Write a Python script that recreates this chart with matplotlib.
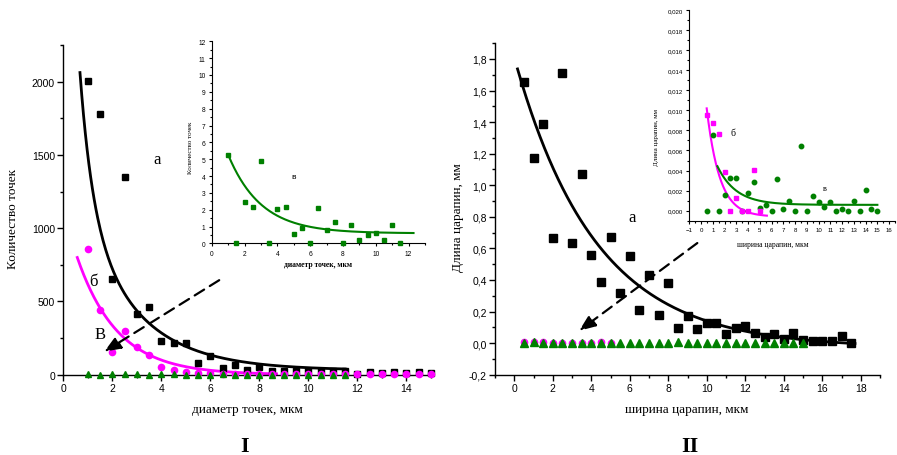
import numpy as np
import matplotlib
matplotlib.use('Agg')
import matplotlib.pyplot as plt
from matplotlib.ticker import MultipleLocator, FuncFormatter

SANS = 'Liberation Sans'
SERIF = 'Liberation Serif'
GREEN = '#008000'
MAGENTA = '#ff00ff'
W, H = 897, 456

# I: number of dots vs dot diameter (um)
dot_d = [1, 1.5, 2, 2.5, 3, 3.5, 4, 4.5, 5, 5.5, 6, 6.5, 7, 7.5, 8, 8.5, 9, 9.5,
         10, 10.5, 11, 11.5, 12, 12.5, 13, 13.5, 14, 14.5, 15]
dots_a = [2005, 1778, 652, 1348, 413, 464, 228, 216, 216, 78, 125, 44, 66, 34,
          55, 26, 27, 23, 23, 23, 23, 27, 8, 18, 12, 20, 12, 16, 12]
dots_b = [857, 441, 157, 300, 187, 136, 55, 34, 20, 9, 11, 8, 6, 5, 5, 4, 4, 4,
          4, 4, 4, 4, 4, 4, 4, 4, 4, 4, 4]
dot_d_v = [1, 1.5, 2, 2.5, 3, 3.5, 4, 4.5, 5, 5.5, 6, 6.5, 7, 7.5, 8, 8.5, 9,
           9.5, 10, 10.5, 11, 11.5]
dots_v = [5.25, 0, 2.44, 2.14, 4.87, 0, 2.04, 2.14, 0.55, 0.91, 0, 2.08, 0.79,
          1.27, 0, 1.09, 0.2, 0.5, 0.59, 0.2, 1.09, 0]

# II: scratch length (mm) vs scratch width (um)
scr_w = [0.5, 1, 1.5, 2, 2.5, 3, 3.5, 4, 4.5, 5, 5.5, 6, 6.5, 7, 7.5, 8, 8.5, 9,
         9.5, 10, 10.5, 11, 11.5, 12, 12.5, 13, 13.5, 14, 14.5, 15, 15.5, 16,
         16.5, 17, 17.5]
scr_a = [1.656, 1.174, 1.39, 0.669, 1.713, 0.634, 1.073, 0.558, 0.389, 0.674,
         0.316, 0.554, 0.213, 0.434, 0.179, 0.381, 0.095, 0.175, 0.088, 0.128,
         0.128, 0.059, 0.097, 0.109, 0.063, 0.038, 0.059, 0.029, 0.065, 0.021,
         0.015, 0.011, 0.011, 0.046, 0.002]
scr_w_b = [0.5, 1, 1.5, 2, 2.5, 3, 3.5, 4, 4.5, 5]
scr_b = [0.00957, 0.00874, 0.00765, 0.00382, 0, 0.0013, 0, 0, 0.00402, 0]
scr_w_v = [0.5, 1, 1.5, 2, 2.5, 3, 3.5, 4, 4.5, 5, 5.5, 6, 6.5, 7, 7.5, 8, 8.5,
           9, 9.5, 10, 10.5, 11, 11.5, 12, 12.5, 13, 13.5, 14, 14.5, 15]
scr_v = [0, 0.0075, 0, 0.00157, 0.00327, 0.00327, 0, 0.0018, 0.00287, 0.00027,
         0.00057, 0, 0.0032, 0.00017, 0.00097, 0, 0.0064, 0, 0.00143, 0.00083,
         0.00033, 0.00083, 0, 0.0002, 0, 0.001, 0, 0.0021, 0.00017, 0]

# exponential decay fits: (x from, x to, y0, A1, t1, A2, t2)
fit_dots_a = (0.68, 11.5, 30, 3330, 0.53, 1500, 2.25)
fit_dots_b = (0.57, 8.7, 0, 1130, 1.65, 0, 1)
fit_dots_v = (1.0, 12.3, 0.6, 7.7, 2.0, 0, 1)
fit_scr_a = (0.17, 17.7, -0.03, 1.84, 4.2, 0, 1)
fit_scr_b = (0.48, 5.6, -0.0006, 0.0167, 1.1, 0, 1)
fit_scr_v = (1.39, 15.0, 0.00058, 0.00918, 1.6, 0, 1)


def plot_fit(ax, fit, color, lw):
    x0, x1, y0, a1, t1, a2, t2 = fit
    x = np.linspace(x0, x1, 300)
    y = y0 + a1 * np.exp(-x / t1) + a2 * np.exp(-x / t2)
    ax.plot(x, y, color=color, lw=lw, zorder=2)


def style_axes(ax, size, lw=1.0, major=4, minor=2.5):
    for side in ('top', 'right'):
        ax.spines[side].set_visible(False)
    for side in ('left', 'bottom'):
        ax.spines[side].set_linewidth(lw)
    ax.tick_params(which='major', direction='out', length=major, width=lw,
                   labelsize=size, pad=2)
    ax.tick_params(which='minor', direction='out', length=minor, width=lw)
    ax.set_facecolor('none')


def comma(fmt):
    return FuncFormatter(lambda v, p: fmt.format(v + 0).replace('.', ','))


def dashed_arrow(ax, tip, tail):
    ax.annotate('', xy=tip, xytext=tail,
                arrowprops=dict(arrowstyle='-|>,head_length=1.0,head_width=0.4',
                                ls=(0, (5, 3)), lw=1.6, color='k',
                                shrinkA=0, shrinkB=0))


plt.rcParams['font.family'] = SANS
fig = plt.figure(figsize=(W / 100, H / 100), dpi=100)


def ftext(x, y, s, **kw):
    fig.text(x / W, 1 - y / H, s, ha='center', va='center', **kw)


def box(left, top, right, bottom):
    return [left / W, 1 - bottom / H, (right - left) / W, (bottom - top) / H]


# ---- I ----
ax1 = fig.add_axes(box(63.3, 46, 431, 375.7))
style_axes(ax1, 7.5)
ax1.plot(dot_d, dots_a, 's', color='k', ms=5, zorder=3, clip_on=False)
plot_fit(ax1, fit_dots_a, 'k', 2.0)
ax1.plot(dot_d, dots_b, 'o', color=MAGENTA, ms=5.5, mec='none', zorder=3,
         clip_on=False)
plot_fit(ax1, fit_dots_b, MAGENTA, 2.0)
ax1.plot(dot_d_v, dots_v, '^', color=GREEN, ms=4.5, zorder=4, clip_on=False)
ax1.set_xlim(0, 15)
ax1.set_ylim(0, 2250)
ax1.xaxis.set_major_locator(MultipleLocator(2))
ax1.xaxis.set_minor_locator(MultipleLocator(1))
ax1.yaxis.set_major_locator(MultipleLocator(500))
ax1.yaxis.set_minor_locator(MultipleLocator(250))
dashed_arrow(ax1, (1.67, 157), (6.36, 645))
ax1.text(3.83, 1471, 'а', family=SERIF, fontsize=12, ha='center', va='center')
ax1.text(1.25, 641, 'б', family=SERIF, fontsize=12, ha='center', va='center')
ax1.text(1.5, 277, 'В', family=SERIF, fontsize=12, ha='center', va='center')

ins1 = fig.add_axes(box(211.7, 42.3, 425, 244.4))
style_axes(ins1, 4.8, lw=0.8, major=2.5, minor=1.5)
ins1.plot(dot_d_v, dots_v, 's', color=GREEN, ms=3.2, zorder=3, clip_on=False)
plot_fit(ins1, fit_dots_v, GREEN, 1.5)
ins1.set_xlim(0, 13)
ins1.set_ylim(0, 12)
ins1.xaxis.set_major_locator(MultipleLocator(2))
ins1.xaxis.set_minor_locator(MultipleLocator(1))
ins1.yaxis.set_major_locator(MultipleLocator(1))
ins1.yaxis.set_minor_locator(MultipleLocator(0.5))
ins1.text(4.98, 3.99, 'в', fontsize=6, ha='center', va='center')

# ---- II ----
ax2 = fig.add_axes(box(495, 44.2, 880, 375.7))
style_axes(ax2, 7.5)
ax2.plot(scr_w, scr_a, 's', color='k', ms=5.2, zorder=3, clip_on=False)
plot_fit(ax2, fit_scr_a, 'k', 2.0)
ax2.plot(scr_w_b, scr_b, 'o', color=MAGENTA, ms=5.5, mec='none', zorder=3)
ax2.plot(scr_w_v, scr_v, '^', color=GREEN, ms=5.2, zorder=4)
ax2.set_xlim(-1, 19)
ax2.set_ylim(-0.2, 1.9)
ax2.xaxis.set_major_locator(MultipleLocator(2))
ax2.xaxis.set_minor_locator(MultipleLocator(1))
ax2.yaxis.set_major_locator(MultipleLocator(0.2))
ax2.yaxis.set_minor_locator(MultipleLocator(0.1))
ax2.yaxis.set_major_formatter(comma('{:.1f}'))
dashed_arrow(ax2, (3.37, 0.078), (9.51, 0.634))
ax2.text(6.1, 0.8, 'а', family=SERIF, fontsize=12, ha='center', va='center')

ins2 = fig.add_axes(box(689.3, 11, 895, 221.7))
style_axes(ins2, 4.4, lw=0.8, major=2.5, minor=1.5)
ins2.plot(scr_w_v, scr_v, 'o', color=GREEN, ms=3.2, zorder=3, clip_on=False)
ins2.plot(scr_w_b, scr_b, 's', color=MAGENTA, ms=3.2, zorder=3, clip_on=False)
plot_fit(ins2, fit_scr_b, MAGENTA, 1.5)
plot_fit(ins2, fit_scr_v, GREEN, 1.5)
ins2.set_xlim(-1, 16.5)
ins2.set_ylim(-0.001, 0.020)
ins2.xaxis.set_major_locator(MultipleLocator(1))
ins2.xaxis.set_minor_locator(MultipleLocator(0.5))
ins2.yaxis.set_major_locator(MultipleLocator(0.002))
ins2.yaxis.set_minor_locator(MultipleLocator(0.001))
ins2.yaxis.set_major_formatter(comma('{:.3f}'))
ins2.text(2.75, 0.00775, 'б', family=SERIF, fontsize=7, ha='center', va='center')
ins2.text(10.5, 0.00225, 'в', family=SERIF, fontsize=6, ha='center', va='center')

# axis titles and panel numbers
ftext(13, 219, 'Количество точек', family=SERIF, fontsize=9.5, rotation=90)
ftext(247, 410, 'диаметр точек, мкм', family=SERIF, fontsize=9.5)
ftext(458, 218, 'Длина царапин, мм', family=SERIF, fontsize=9.5, rotation=90)
ftext(687, 410, 'ширина царапин, мкм', family=SERIF, fontsize=9.5)
ftext(190, 148, 'Количество точек', family=SERIF, fontsize=5, rotation=90)
ftext(318, 265, 'диаметр точек, мкм', family=SERIF, fontsize=5.5,
      weight='bold')
ftext(656, 137, 'Длина царапин, мм', family=SERIF, fontsize=5, rotation=90)
ftext(773, 245, 'ширина царапин, мкм', family=SERIF, fontsize=5.5)
ftext(245, 447, 'I', family=SERIF, fontsize=16, weight='bold')
ftext(690, 447, 'II', family=SERIF, fontsize=16, weight='bold')

fig.savefig('out.png', dpi=100)
